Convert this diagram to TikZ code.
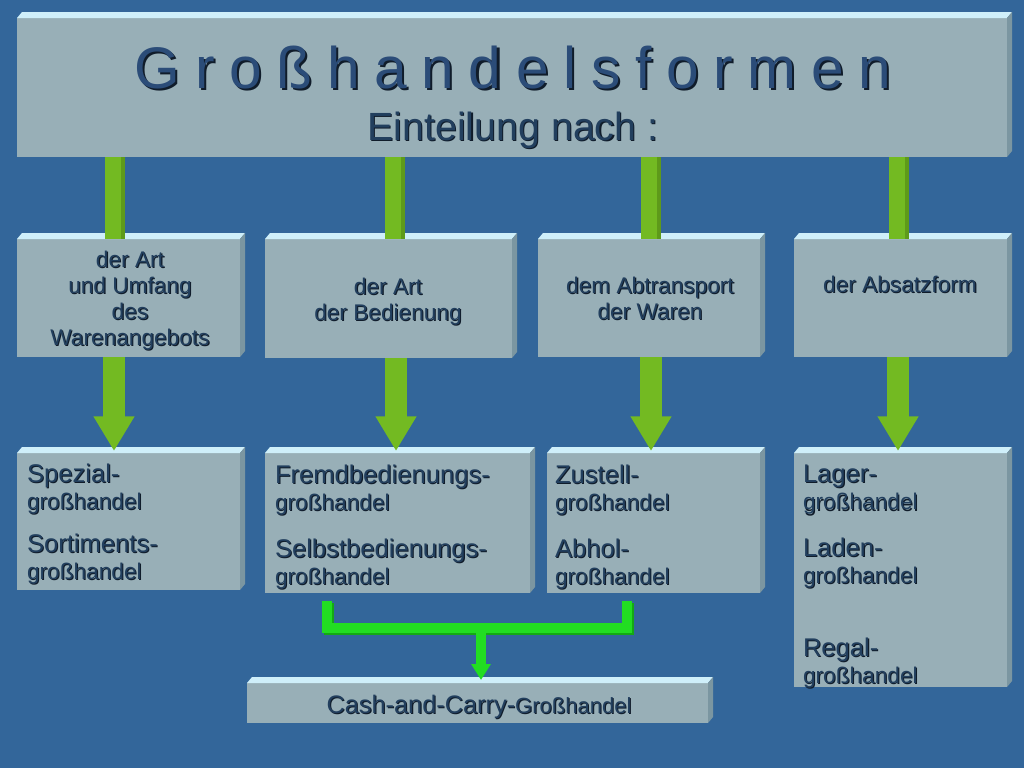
\documentclass[tikz,border=0pt]{standalone}
\usepackage{fontspec}
\setmainfont{Liberation Sans}
\usetikzlibrary{calc,fit,arrows.meta}
\definecolor{bgc}{HTML}{33669A}
\definecolor{facec}{HTML}{98AFB7}
\definecolor{topc}{HTML}{CFEFFA}
\definecolor{sidec}{HTML}{7B96A1}
\definecolor{txtc}{HTML}{223F5E}
\definecolor{shadc}{HTML}{101C2A}
\definecolor{titc}{HTML}{2B4C78}
\definecolor{barg}{HTML}{73BA22}
\definecolor{bargd}{HTML}{5E9A1A}
\definecolor{brkg}{HTML}{22DD22}
\definecolor{brkgd}{HTML}{14A914}
\newcommand\mybevel[1]{%
  \fill[topc] (#1.north west) -- ++(5,-6) -- ($(#1.north east)+(5,-6)$) -- (#1.north east) -- cycle;
  \fill[sidec] (#1.north east) -- ++(5,-6) -- ($(#1.south east)+(5,-6)$) -- (#1.south east) -- cycle;}
\newcommand\biglbl[1]{{\fontsize{19.2}{20.5}\selectfont #1}}
\newcommand\sh[1]{\leavevmode\rlap{\kern0.8pt\raisebox{-0.8pt}{\textcolor{shadc}{#1}}}#1}
\newcommand\shbig[1]{\leavevmode\rlap{\kern1.6pt\raisebox{-1.6pt}{\textcolor{shadc}{#1}}}#1}
\begin{document}
\begin{tikzpicture}[x=0.75pt,y=-0.75pt,
  face/.style={fill=facec, inner sep=0pt, outer sep=0pt},
  txt/.style={text=txtc, inner sep=0pt, outer sep=0pt},
  lvltwo/.style={txt, align=center, anchor=north, font=\fontsize{17}{19.5}\selectfont},
  lvlthree/.style={txt, align=left, anchor=north west, font=\fontsize{17}{20.5}\selectfont},
  bar/.style={draw=barg, line width=15pt,
     postaction={draw=bargd, line width=3pt, transform canvas={xshift=6pt}}},
  bigarrow/.style={draw=barg, line width=16.5pt, -{Triangle[width=29pt,length=26pt]}},
  brk/.style={draw=brkg, line width=7.5pt, line join=miter,
     preaction={draw=brkgd, line width=7.5pt, transform canvas={xshift=1.2pt,yshift=-1.2pt}}},
]
\useasboundingbox (0,0) rectangle (1024,768);
\fill[bgc] (0,0) rectangle (1024,768);

% boxes
\node[face, fit={(17,18) (1007,157)}] (t) {};
\node[face, fit={(17,239) (240,357)}] (a2) {};
\node[face, fit={(265,239) (512,358)}] (b2) {};
\node[face, fit={(538,239) (760,357)}] (c2) {};
\node[face, fit={(794,239) (1007,357)}] (d2) {};
\node[face, fit={(17,453) (240,590)}] (a3) {};
\node[face, fit={(265,453) (530,593)}] (b3) {};
\node[face, fit={(547,453) (760,593)}] (c3) {};
\node[face, fit={(794,453) (1007,687)}] (d3) {};
\node[face, fit={(247,683) (708,723)}] (cash) {};
\foreach \n in {t,a2,b2,c2,d2,a3,b3,c3,d3,cash} {\mybevel{\n}}

% x positions of connectors
\coordinate (xa) at (115,0);
\coordinate (xb) at (395,0);
\coordinate (xc) at (651,0);
\coordinate (xd) at (899,0);
\coordinate (ya) at (114,0);
\coordinate (yb) at (396,0);
\coordinate (yc) at (651,0);
\coordinate (yd) at (898,0);

% bars from title to level 2
\draw[bar] (t.south -| xa) -- (a2.north -| xa);
\draw[bar] (t.south -| xb) -- (b2.north -| xb);
\draw[bar] (t.south -| xc) -- (c2.north -| xc);
\draw[bar] (t.south -| xd) -- (d2.north -| xd);

% arrows level 2 -> level 3
\draw[bigarrow] (a2.south -| ya) -- ([yshift=1.5pt]a3.north -| ya);
\draw[bigarrow] (b2.south -| yb) -- ([yshift=1.5pt]b3.north -| yb);
\draw[bigarrow] (c2.south -| yc) -- ([yshift=1.5pt]c3.north -| yc);
\draw[bigarrow] (d2.south -| yd) -- ([yshift=1.5pt]d3.north -| yd);

% bracket to cash and carry
\coordinate (bl) at (327,601);
\coordinate (br) at (627,601);
\coordinate (bm) at (481,628);
\draw[brk] (bl) |- (bm) -| (br);
\draw[draw=brkg, line width=7.5pt, -{Triangle[width=14pt,length=12pt]}] (bm) -- ([yshift=2.25pt]cash.north -| bm);

% texts
\node[txt, anchor=base, text=titc, font=\fontsize{44}{50}\selectfont] (title) at (513,88)
  {\spaceskip=11pt\relax\shbig{G r o ß h a n d e l s f o r m e n}};
\node[txt, anchor=base, font=\fontsize{29.5}{34}\selectfont] (sub) at (513,140) {\sh{Einteilung nach :}};

\node[lvltwo] (ta2) at (130,251) {\sh{der Art}\\\sh{und Umfang}\\\sh{des}\\\sh{Warenangebots}};
\node[lvltwo] (tb2) at (388,278) {\sh{der Art}\\\sh{der Bedienung}};
\node[lvltwo] (tc2) at (650,277) {\sh{dem Abtransport}\\\sh{der Waren}};
\node[lvltwo] (td2) at (900,276) {\sh{der Absatzform}};

\node[lvlthree] (ta3a) at (27,464) {\biglbl{\sh{Spezial-}}\\\sh{großhandel}};
\node[lvlthree] (ta3b) at (27,534) {\biglbl{\sh{Sortiments-}}\\\sh{großhandel}};
\node[lvlthree] (tb3a) at (275,465) {\biglbl{\sh{Fremdbedienungs-}}\\\sh{großhandel}};
\node[lvlthree] (tb3b) at (275,539) {\biglbl{\sh{Selbstbedienungs-}}\\\sh{großhandel}};
\node[lvlthree] (tc3a) at (555,465) {\biglbl{\sh{Zustell-}}\\\sh{großhandel}};
\node[lvlthree] (tc3b) at (555,539) {\biglbl{\sh{Abhol-}}\\\sh{großhandel}};
\node[lvlthree] (td3a) at (803,465) {\biglbl{\sh{Lager-}}\\\sh{großhandel}};
\node[lvlthree] (td3b) at (803,538) {\biglbl{\sh{Laden-}}\\\sh{großhandel}};
\node[lvlthree] (td3c) at (803,638) {\biglbl{\sh{Regal-}}\\\sh{großhandel}};

\node[txt, anchor=base] (tcash) at (479,713)
  {{\fontsize{19}{20}\selectfont\sh{Cash-and-Carry-}}{\fontsize{16.5}{20}\selectfont\sh{Großhandel}}};
\end{tikzpicture}
\end{document}
